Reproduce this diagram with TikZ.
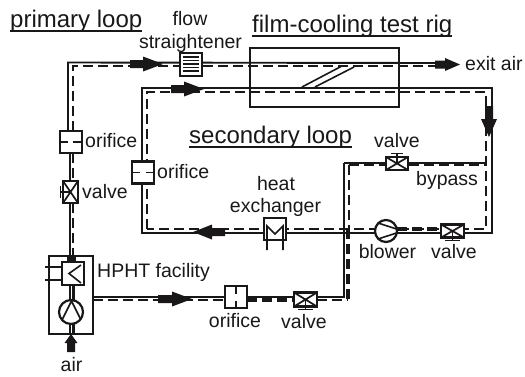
\documentclass[tikz,border=0pt]{standalone}
\usepackage{fontspec}
\setmainfont{Liberation Sans}
\usetikzlibrary{backgrounds}
\definecolor{ink}{HTML}{1A1718}
\newcommand{\flowarrow}[6]{\fill[ink,shift={(#1,#2)},rotate=#3] (0,-4)--(#4,-4)--(#4,-#6)--(#5,0)--(#4,#6)--(#4,4)--(0,4)--cycle;}
\tikzset{
  pipe/.style={ink,line width=1.9},
  flow/.style={ink,line width=2.7,dash pattern=on 10pt off 5pt},
  flowthick/.style={ink,line width=3.4,dash pattern=on 10pt off 5pt},
  part/.style={draw=ink,fill=white,line width=2.2,inner sep=0,outer sep=0},
  bare/.style={ink,line width=1.6},
  valvebox/.style={part,minimum width=#1,minimum height=13pt,
    path picture={\draw[ink,line width=1.7] (path picture bounding box.north west)--(path picture bounding box.south east)
      (path picture bounding box.south west)--(path picture bounding box.north east);}},
  valvebox/.default=22pt,
  lab/.style={ink,inner sep=0,anchor=base west,font=\fontsize{19.5}{20}\selectfont},
  labc/.style={ink,inner sep=0,anchor=base,font=\fontsize{19.5}{20}\selectfont},
  head/.style={ink,inner sep=0,anchor=base west,font=\fontsize{24}{26}\selectfont},
}
\begin{document}
\begin{tikzpicture}[x=1pt,y=-1pt]
\useasboundingbox (0,0) rectangle (525,376);
% parts
\node[part,minimum width=22pt,minimum height=23pt] (fs) at (191,64.5) {};
\foreach \yy in {57,60.5,64,67.5,71} \draw[ink,line width=1.3] (183,\yy)--(199,\yy);
\node[part,minimum width=22pt,minimum height=22pt] (or1) at (71,142) {};
\node[part,minimum width=22pt,minimum height=22pt] (or2) at (143,172.5) {};
\node[part,minimum width=22pt,minimum height=22pt] (or3) at (236,297) {};
\node[valvebox=22pt] (vb) at (397,163.5) {};
\node[valvebox=23pt] (vr) at (452.5,231) {};
\node[valvebox=23pt,minimum height=14pt] (vm) at (305.5,299.5) {};
\node[part,minimum width=15pt,minimum height=22pt,path picture={\draw[ink,line width=1.7] (path picture bounding box.north west)--(path picture bounding box.south east)
      (path picture bounding box.south west)--(path picture bounding box.north east);}] (vl) at (70.5,192) {};
\node[part,minimum width=22pt,minimum height=22pt] (hx) at (275,229) {};
\node[part,circle,minimum size=22pt] (bl) at (386,231) {};
\node[part,minimum width=44pt,minimum height=78pt] (hp) at (71,295) {};
\node[part,minimum width=22pt,minimum height=23pt] (hx2) at (73,273.5) {};
\node[part,circle,minimum size=24pt] (pm) at (71,312) {};
\node[draw=ink,line width=2.2,minimum width=149pt,minimum height=59pt,inner sep=0] (rig) at (324.5,77.5) {};
% junction points
\coordinate (pa) at (68,62.5);
\coordinate (pb) at (73,66);
\coordinate (ex1) at (440,63);
\coordinate (ex2) at (440,66);
\coordinate (sa) at (142,88);
\coordinate (sb) at (492,88);
\coordinate (sc) at (492,233);
\coordinate (sd) at (142,233);
\coordinate (da) at (147,92);
\coordinate (db) at (486,92);
\coordinate (dc) at (486,229);
\coordinate (dd) at (147,229);
\coordinate (ba) at (344,163);
\coordinate (bb) at (486,163);
\coordinate (bc) at (344,297);
\coordinate (be) at (349,165);
\coordinate (bf) at (486,165);
\coordinate (bg) at (349,229);
\coordinate (bh) at (348,229);
\coordinate (bi) at (348,300);
% pipes
\begin{scope}[on background layer]
\draw[pipe] (or1.north -| pa) -- (pa) -- (ex1);
\draw[flow] (or1.north -| pb) -- (pb) -- (ex2);
\draw[pipe] (70,153) -- (70,181);
\draw[flow] (73,153) -- (73,181);
\draw[pipe] (70,203) -- (70,256);
\draw[flow] (73,203) -- (73,256);
\draw[pipe] (sa) -- (sb) -- (sc) -- (sd) -- cycle;
\draw[flow] (dd) -- (da) -- (db) -- (dc) -- (dd);
\draw[pipe] (ba) -- (bb) (486,158) -- (486,165);
\draw[flow] (be) -- (bf);
\draw[flow] (be) -- (bg);
\draw[pipe] (ba) -- (bc) -- (hp.east |- bc);
\draw[flowthick] (bh) -- (bi);
\draw[flow] (hp.east |- bi) -- (or3.west |- bi);
\draw[flowthick] (or3.east |- bi) -- (vm.west |- bi);
\draw[flow] (vm.east |- bi) -- (bi);
\draw[flowthick] (bl.east |- dc) -- (vr.west |- dc);
\end{scope}
% pipes inside the facility
\draw[pipe] (70,285) -- (70,300) (70,324) -- (70,334);
\draw[ink,line width=3] (73,285) -- (73,300) (73,324) -- (73,334);
% part details
\draw[bare] (or1.west)--(68,142) (73,142)--(or1.east);
\draw[bare] (or2.west)--(140,172.5) (146,172.5)--(or2.east);
\draw[bare] (or3.north)--(236,293.5) (236,300.5)--(or3.south);
\draw[bare] (vb.center)--(397,153.5) (391,153.5)--(403,153.5);
\draw[bare] (vr.center)--(452.5,240.5) (445,240.5)--(460,240.5);
\draw[bare] (vm.center)--(305.5,309.5) (298,309.5)--(313,309.5);
\draw[bare] (vl.center)--(60.5,192) (60.5,186)--(60.5,198);
\draw[bare] (267,250)--(267,226)--(275,234)--(283,226)--(283,250);
\draw[bare] (378,223)--(396.5,229) (378,239)--(396.5,233);
\draw[bare] (45,267)--(hx2.west |- 0,267) (45,280)--(hx2.west |- 0,280);
\draw[bare] (81,265)--(69,273.5)--(81,283);
\draw[bare] (71.5,301)--(62,320) (71.5,301)--(81,320);
\fill[ink] (67,255)--(76,255)--(76,262)--(67,262)--cycle;
% rig diagonals
\draw[bare] (302,87)--(341,66.5) (315,87)--(354,67);
% arrows
\flowarrow{130}{64}{0}{13}{33}{7.5}
\flowarrow{171}{89}{0}{13}{33}{7.5}
\flowarrow{435}{64.5}{0}{10}{25}{6.5}
\flowarrow{489}{106}{-90}{13}{31}{8}
\flowarrow{225}{232}{180}{13}{32}{7.5}
\flowarrow{158}{299}{0}{14}{34}{7.5}
\flowarrow{71}{352}{90}{9}{18}{6.5}
% labels
\node[head] (t1) at (10,27) {primary loop};
\draw[ink,line width=1.5] ([yshift=-4pt]t1.base west)--([yshift=-4pt]t1.base east);
\node[head] (t2) at (252,32) {film-cooling test rig};
\draw[ink,line width=1.5] ([yshift=-4pt]t2.base west)--([yshift=-4pt]t2.base east);
\node[head] (t3) at (189,143) {secondary loop};
\draw[ink,line width=1.5] ([yshift=-4pt]t3.base west)--([yshift=-4pt]t3.base east);
\node[labc] (l1) at (190,25) {flow};
\node[labc] (l2) at (190.5,48) {straightener};
\node[lab] (l3) at (465,70) {exit air};
\node[lab] (l4) at (85,147) {orifice};
\node[lab] (l5) at (157,178) {orifice};
\node[lab] (l6) at (82,198) {valve};
\node[labc] (l7) at (276,190) {heat};
\node[labc] (l8) at (275.5,212) {exchanger};
\node[lab] (l9) at (97,277) {HPHT facility};
\node[labc] (l10) at (397,147) {valve};
\node[lab] (l11) at (416,185) {bypass};
\node[labc] (l12) at (387.5,258) {blower};
\node[labc] (l13) at (454,258) {valve};
\node[labc] (l14) at (304,328) {valve};
\node[labc] (l15) at (235,327) {orifice};
\node[labc] (l16) at (71.5,371) {air};
\end{tikzpicture}
\end{document}
